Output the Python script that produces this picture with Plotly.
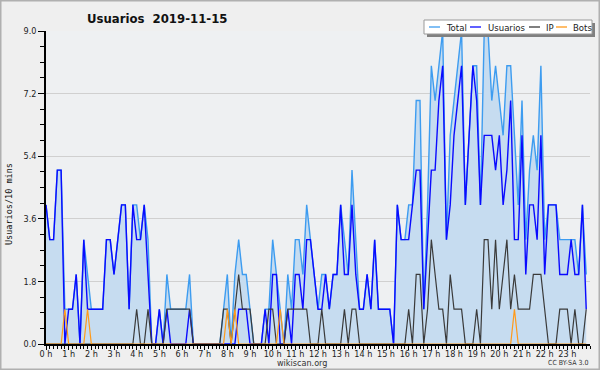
import plotly.graph_objects as go

# ---- data (10-minute slots, 0h00 .. 23h50) ----
slot_minutes = list(range(0, 1440, 10))

usuarios = [4,3,3,5,5,0,1,1,2,0,
            3,1,1,1,1,1,3,3,2,3,
            4,4,1,4,3,3,4,2,0,0,
            1,0,1,0,0,0,0,0,1,0,
            0,0,0,0,0,0,0,0,0,0,
            0,1,1,1,0,0,0,0,1,0,
            2,2,0,0,1,0,2,2,1,3,
            3,2,1,1,2,1,2,2,4,2,
            2,4,2,1,1,2,1,3,1,1,
            1,1,0,4,3,3,3,4,5,5,
            1,3,5,5,7,8,3,4,6,7,
            8,4,6,8,7,4,6,6,6,5,
            6,4,5,7,3,3,6,2,4,4,
            3,6,2,4,4,4,2,2,2,3,
            2,2,4,1]

ip = [0,0,0,0,0,0,0,0,0,0,
      0,0,0,0,0,0,0,0,0,0,
      0,0,0,0,1,0,0,1,0,0,
      0,0,1,1,1,1,1,1,1,0,
      0,0,0,0,0,0,0,1,1,0,
      1,2,1,1,1,0,0,0,0,1,
      1,0,0,0,1,1,1,1,1,1,
      0,0,0,1,0,0,0,0,0,1,
      0,1,1,0,0,0,0,0,0,0,
      0,0,0,0,0,0,1,0,2,2,
      0,1,3,2,1,1,0,2,1,1,
      1,0,0,0,1,0,3,3,1,3,
      1,2,3,1,2,1,1,1,1,2,
      2,2,1,0,0,0,1,1,1,0,
      1,0,0,1]

bots = [0,0,0,0,0,1,0,0,0,0,
        0,1,0,0,0,0,0,0,0,0,
        0,0,0,0,0,0,0,0,0,0,
        0,0,0,0,0,0,0,0,0,0,
        0,0,0,0,0,0,0,0,1,0,
        1,0,0,0,0,0,0,0,0,0,
        0,0,1,0,0,0,0,0,0,0,
        0,0,0,0,0,0,0,0,0,0,
        0,0,0,0,0,0,0,0,0,0,
        0,0,0,0,0,0,0,0,0,0,
        0,0,0,0,0,0,0,0,0,0,
        0,0,0,0,0,0,0,0,0,0,
        0,0,0,0,1,0,0,0,0,0,
        0,0,0,0,0,0,0,0,0,0,
        0,0,0,0]

total = [4,3,3,5,5,1,1,1,2,0,
         3,2,1,1,1,1,3,3,2,3,
         4,4,1,4,4,3,4,3,0,0,
         1,0,2,1,1,1,1,1,2,0,
         0,0,0,0,0,0,0,1,2,0,
         2,3,2,2,1,0,0,0,1,1,
         3,2,1,0,2,1,3,3,2,4,
         3,2,1,2,2,1,2,2,4,3,
         2,5,3,1,1,2,1,3,1,1,
         1,1,0,4,3,3,4,4,7,7,
         1,4,8,7,8,9,3,6,7,8,
         9,4,6,8,8,4,9,9,7,8,
         7,6,8,8,6,4,7,3,5,6,
         5,8,3,4,4,4,3,3,3,3,
         3,2,4,2]

y_ticks = [0.0, 1.8, 3.6, 5.4, 7.2, 9.0]
y_tick_labels = ["0.0", "1.8", "3.6", "5.4", "7.2", "9.0"]
hour_ticks = list(range(24))
hour_labels = [f"{h} h" for h in hour_ticks]

title_text = "Usuarios\u00a0\u00a02019-11-15"
y_title = "Usuarios/10 mins"
legend_names = ["Total", "Usuarios", "IP", "Bots"]
colors = {"Total": "#3d9cf0", "Usuarios": "#0a0aff", "IP": "#3a3a3a", "Bots": "#ff9a1a"}

hours = [m / 60 for m in slot_minutes]

# ---- pixel helpers for decorations ----
L, R, T, B = 46, 590, 31, 344
def px(x):
    return (x - L) / (R - L)
def py(y):
    return (B - y) / (B - T)

COND = "DejaVu Sans Condensed, Liberation Sans Narrow, DejaVu Sans"

fig = go.Figure()
fig.add_trace(go.Scatter(x=hours, y=total, mode="lines", name="Total",
                         line=dict(color=colors["Total"], width=1.4),
                         fill="tozeroy", fillcolor="#c6dcf0"))
fig.add_trace(go.Scatter(x=hours, y=usuarios, mode="lines", name="Usuarios",
                         line=dict(color=colors["Usuarios"], width=1.4)))
fig.add_trace(go.Scatter(x=hours, y=ip, mode="lines", name="IP",
                         line=dict(color=colors["IP"], width=1.2)))
fig.add_trace(go.Scatter(x=hours, y=bots, mode="lines", name="Bots",
                         line=dict(color=colors["Bots"], width=1.2)))

tickfont = dict(family=COND, size=9, color="#222222")

fig.update_layout(
    width=600, height=370,
    margin=dict(l=L, r=600 - R, t=T, b=370 - B, pad=0),
    paper_bgcolor="#efefef", plot_bgcolor="#eef0f2",
    showlegend=False,
    xaxis=dict(range=[0, 24], tickvals=hour_ticks, ticktext=hour_labels,
               ticks="outside", ticklen=4, tickcolor="#000", tickfont=tickfont,
               ticklabelstandoff=-4,
               showline=True, linecolor="#000", linewidth=1.5, showgrid=False,
               zeroline=False, fixedrange=True, automargin=False,
               minor=dict(dtick=1/6, ticks="outside", ticklen=3, tickcolor="#000", showgrid=False)),
    yaxis=dict(range=[0, 9], tickvals=y_ticks, ticktext=y_tick_labels,
               ticks="outside", ticklen=6, tickcolor="#000", tickfont=tickfont,
               showline=True, linecolor="#000", linewidth=1.5,
               showgrid=True, gridcolor="#d0d0d0", gridwidth=1,
               zeroline=False, fixedrange=True, automargin=False,
               minor=dict(dtick=0.45, ticks="outside", ticklen=4, tickcolor="#000", showgrid=False)),
)

ann = []
ann.append(dict(text=f"<b>{title_text}</b>", x=px(85), y=py(18), xref="paper", yref="paper",
                xanchor="left", yanchor="middle", showarrow=False,
                font=dict(family=COND, size=13, color="#111")))
ann.append(dict(text=y_title, x=px(9), y=py(204), xref="paper", yref="paper",
                xanchor="center", yanchor="middle", textangle=-90, showarrow=False,
                font=dict(family="DejaVu Sans Mono", size=8.5, color="#111")))
ann.append(dict(text="wikiscan.org", x=px(302), y=py(363), xref="paper", yref="paper",
                xanchor="center", yanchor="middle", showarrow=False,
                font=dict(family=COND, size=9, color="#333")))
ann.append(dict(text="CC BY-SA 3.0", x=px(590), y=py(363), xref="paper", yref="paper",
                xanchor="right", yanchor="middle", showarrow=False,
                font=dict(family=COND, size=7, color="#333")))

shapes = []
# outer border
shapes.append(dict(type="rect", xref="paper", yref="paper", x0=px(0.5), x1=px(599.5),
                   y0=py(0.5), y1=py(369.5), line=dict(color="#b0b0b0", width=2)))
# legend box with shadow
shapes.append(dict(type="rect", xref="paper", yref="paper", x0=px(427), x1=px(595),
                   y0=py(23), y1=py(37), line=dict(width=0), fillcolor="#808080"))
shapes.append(dict(type="rect", xref="paper", yref="paper", x0=px(424), x1=px(592),
                   y0=py(20), y1=py(34), line=dict(color="#999999", width=1), fillcolor="#ffffff"))
leg_line_x = [429, 470, 529, 556]
leg_text_x = [444, 486, 544, 571]
for name, lx, tx in zip(legend_names, leg_line_x, leg_text_x):
    shapes.append(dict(type="line", xref="paper", yref="paper", x0=px(lx), x1=px(lx + 11),
                       y0=py(27), y1=py(27), line=dict(color=colors[name], width=1.3)))
    ann.append(dict(text=name, x=px(tx), y=py(27), xref="paper", yref="paper",
                    xanchor="left", yanchor="middle", showarrow=False,
                    font=dict(family=COND, size=9.5, color="#222")))

fig.update_layout(annotations=ann, shapes=shapes)
fig.write_html("out.html", config={"displayModeBar": False},
               post_script="document.body.style.margin='0';document.body.style.padding='0';"
                           "document.documentElement.style.overflow='hidden';")
